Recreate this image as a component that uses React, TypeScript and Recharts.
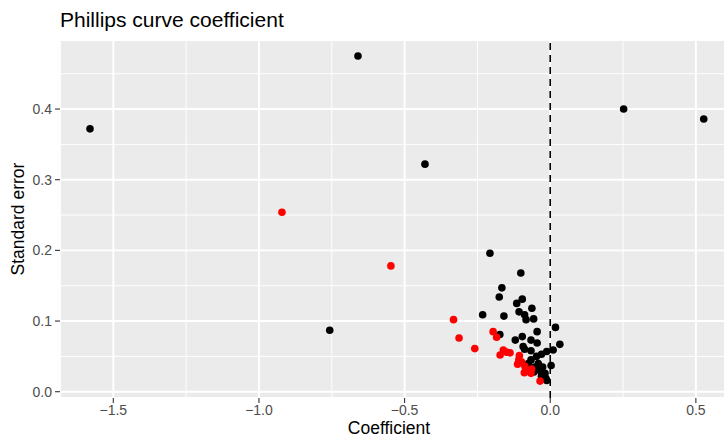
import React from 'react';
import { ScatterChart, Scatter, XAxis, YAxis, CartesianGrid, ReferenceLine } from 'recharts';

// black dots: coefficient vs standard error
const blackPoints = [
  { coef: -1.58, se: 0.372 },
  { coef: -0.66, se: 0.475 },
  { coef: 0.252, se: 0.4 },
  { coef: 0.527, se: 0.386 },
  { coef: -0.43, se: 0.322 },
  { coef: -0.757, se: 0.087 },
  { coef: -0.207, se: 0.196 },
  { coef: -0.101, se: 0.168 },
  { coef: -0.166, se: 0.147 },
  { coef: -0.175, se: 0.134 },
  { coef: -0.232, se: 0.109 },
  { coef: -0.159, se: 0.107 },
  { coef: -0.115, se: 0.125 },
  { coef: -0.096, se: 0.131 },
  { coef: -0.107, se: 0.113 },
  { coef: -0.088, se: 0.109 },
  { coef: -0.083, se: 0.102 },
  { coef: -0.063, se: 0.118 },
  { coef: -0.057, se: 0.103 },
  { coef: -0.173, se: 0.081 },
  { coef: 0.018, se: 0.091 },
  { coef: -0.045, se: 0.085 },
  { coef: -0.096, se: 0.078 },
  { coef: -0.12, se: 0.073 },
  { coef: -0.066, se: 0.073 },
  { coef: -0.045, se: 0.069 },
  { coef: 0.033, se: 0.067 },
  { coef: 0.01, se: 0.059 },
  { coef: -0.088, se: 0.06 },
  { coef: -0.066, se: 0.058 },
  { coef: -0.093, se: 0.064 },
  { coef: -0.03, se: 0.053 },
  { coef: -0.012, se: 0.057 },
  { coef: -0.047, se: 0.05 },
  { coef: -0.066, se: 0.045 },
  { coef: -0.041, se: 0.04 },
  { coef: -0.053, se: 0.035 },
  { coef: -0.026, se: 0.035 },
  { coef: -0.035, se: 0.03 },
  { coef: -0.018, se: 0.026 },
  { coef: -0.03, se: 0.022 },
  { coef: -0.015, se: 0.019 },
  { coef: 0.003, se: 0.037 },
  { coef: -0.012, se: 0.016 },
  { coef: -0.075, se: 0.04 },
  { coef: -0.056, se: 0.028 },
];

// red dots
const redPoints = [
  { coef: -0.921, se: 0.254 },
  { coef: -0.547, se: 0.178 },
  { coef: -0.332, se: 0.102 },
  { coef: -0.313, se: 0.076 },
  { coef: -0.259, se: 0.061 },
  { coef: -0.196, se: 0.085 },
  { coef: -0.184, se: 0.077 },
  { coef: -0.161, se: 0.059 },
  { coef: -0.15, se: 0.056 },
  { coef: -0.138, se: 0.055 },
  { coef: -0.172, se: 0.052 },
  { coef: -0.106, se: 0.051 },
  { coef: -0.108, se: 0.045 },
  { coef: -0.112, se: 0.039 },
  { coef: -0.087, se: 0.036 },
  { coef: -0.089, se: 0.027 },
  { coef: -0.064, se: 0.032 },
  { coef: -0.066, se: 0.026 },
  { coef: -0.035, se: 0.015 },
  { coef: -0.098, se: 0.042 },
  { coef: -0.08, se: 0.03 },
];

const xTicks = [-1.5, -1.0, -0.5, 0.0, 0.5];
const yTicks = [0.0, 0.1, 0.2, 0.3, 0.4];
const xMinor = [-1.25, -0.75, -0.25, 0.25];
const yMinor = [0.05, 0.15, 0.25, 0.35, 0.45];

const FONT = '"Liberation Sans", Arial, Helvetica, sans-serif';

const fmt = (v: number) => v.toFixed(1).replace('-', '\u2212');

const dot = (fill: string) => (props: any) => (
  <circle cx={props.cx} cy={props.cy} r={3.8} fill={fill} />
);

const YTitle = () => (
  <text
    transform="translate(24,219) rotate(-90)"
    textAnchor="middle"
    fontSize={17.5}
    fontFamily={FONT}
    fill="#000"
  >
    Standard error
  </text>
);

const XTitle = () => (
  <text x={389} y={434} textAnchor="middle" fontSize={17.5} fontFamily={FONT} fill="#000">
    Coefficient
  </text>
);

export default function App() {
  return (
    <div style={{ position: 'absolute', left: 0, top: 0, width: 725, height: 438, background: '#fff' }}>
      <svg width={725} height={40} style={{ position: 'absolute', left: 0, top: 0 }}>
        <text x={60} y={27} fontSize={21} fontFamily={FONT} fill="#000">
          Phillips curve coefficient
        </text>
      </svg>
      <ScatterChart width={725} height={438} margin={{ top: 40, right: 0, bottom: 0, left: 0 }}>
        <CartesianGrid fill="#EBEBEB" stroke="#fff" strokeWidth={1.9} />
        {xMinor.map((v) => (
          <ReferenceLine key={'xm' + v} x={v} stroke="#fff" strokeWidth={0.95} />
        ))}
        {yMinor.map((v) => (
          <ReferenceLine key={'ym' + v} y={v} stroke="#fff" strokeWidth={0.95} />
        ))}
        <XAxis
          type="number"
          dataKey="coef"
          domain={[-1.683, 0.6]}
          ticks={xTicks}
          tickFormatter={fmt}
          allowDataOverflow
          height={40}
          axisLine={false}
          tickLine={{ stroke: '#333', strokeWidth: 1.1 }}
          tickSize={5}
          tickMargin={2}
          tick={{ fill: '#4d4d4d', fontSize: 14, fontFamily: FONT }}
          label={{ content: XTitle }}
        />
        <YAxis
          type="number"
          dataKey="se"
          domain={[-0.0089, 0.4977]}
          ticks={yTicks}
          tickFormatter={(v: number) => v.toFixed(1)}
          allowDataOverflow
          width={60}
          axisLine={false}
          tickLine={{ stroke: '#333', strokeWidth: 1.1 }}
          tickSize={5}
          tickMargin={3}
          tick={{ fill: '#4d4d4d', fontSize: 14, fontFamily: FONT }}
          label={{ content: YTitle }}
        />
        <ReferenceLine x={0} stroke="#000" strokeWidth={1.6} strokeDasharray="7 5" />
        <Scatter data={blackPoints} shape={dot('#000')} isAnimationActive={false} />
        <Scatter data={redPoints} shape={dot('#FF0000')} isAnimationActive={false} />
      </ScatterChart>
    </div>
  );
}
